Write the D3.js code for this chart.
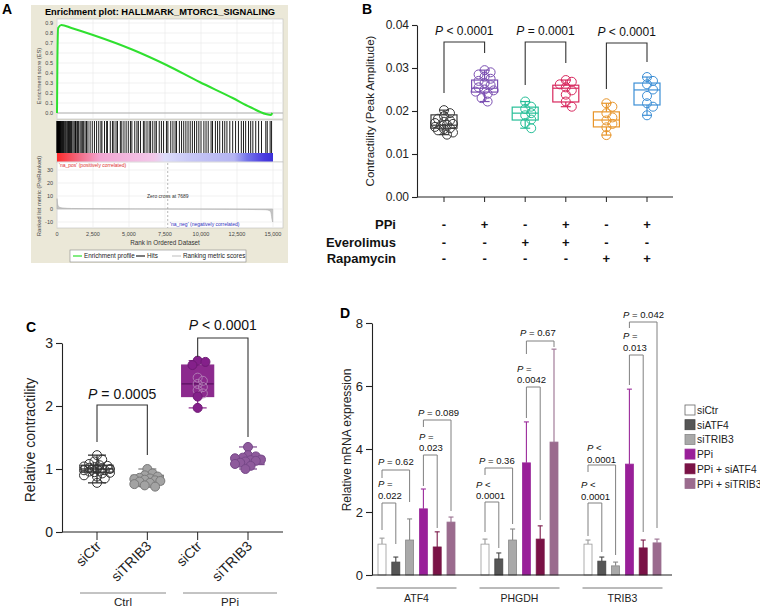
<!DOCTYPE html>
<html><head><meta charset="utf-8">
<script src="https://cdn.jsdelivr.net/npm/d3@7"></script>
<style>body{margin:0;background:#fff} svg{display:block} text{font-family:"Liberation Sans",Arial,Helvetica,sans-serif}</style>
</head><body><svg id="c" width="760" height="610"></svg>
<script>
// ================= DATA =================
// Panel A (GSEA)
const gseaTitle = "Enrichment plot: HALLMARK_MTORC1_SIGNALING";
const esRanks  = [0, 30, 80, 300, 1000, 2500, 5300, 7600, 9900, 12200, 13400, 14500, 14850, 14950];
const esValues = [0, 0.55, 0.85, 0.88, 0.85, 0.78, 0.63, 0.48, 0.31, 0.15, 0.06, -0.01, -0.02, 0.0];
const hitRanks = [5,12,20,31,45,60,78,95,110,130,150,175,200,230,260,290,330,370,410,460,500,560,610,680,740,800,870,940,
  1010,1100,1180,1250,1290,1330,1420,1500,1600,1680,1760,1850,1950,2050,2150,2300,2450,
  2600,2750,2900,3050,3120,3300,3450,3500,3700,3850,3950,4100,4200,4400,4500,4650,4800,4950,
  5100,5200,5400,5550,5650,5800,6000,6100,6250,6400,6500,6650,6800,6900,7100,7250,7400,
  7600,7700,7900,8050,8200,8300,8500,8650,8800,8950,9100,9250,9400,9550,9700,9850,
  10000,10200,10350,10500,10700,10800,11000,11150,11300,11500,11650,11800,12000,12200,12400,
  12600,12800,12950,13100,13300,13450,13600,13800,14000,14200,14500,14600,14800,14900];
const metricRanks  = [0, 20, 60, 150, 400, 1000, 3000, 7689, 12000, 14500, 14800, 14880, 14930, 14980];
const metricValues = [8, 6, 3, 1.5, 0.8, 0.4, 0.2, 0, -0.2, -0.6, -1.5, -4, -8, -10];
const esTicks = [0,0.1,0.2,0.3,0.4,0.5,0.6,0.7,0.8,0.9];
const metricTicks = [30,20,10,0,-10];
const rankTicks = [0,2500,5000,7500,10000,12500,15000];
const zeroCross = 7689;

// Panel B
const bTicks = [0,0.01,0.02,0.03,0.04];
const bCtrl      = [0.0202,0.0195,0.0188,0.0182,0.0178,0.0175,0.0172,0.017,0.0168,0.0166,0.0163,0.016,0.0158,0.0155,0.015,0.0145];
const bPPi       = [0.0295,0.029,0.0285,0.028,0.0275,0.027,0.0265,0.026,0.0255,0.025,0.0248,0.0245,0.024,0.023,0.0222];
const bEvero     = [0.0222,0.021,0.0205,0.0195,0.019,0.018,0.0172,0.016];
const bPPiEvero  = [0.0272,0.0268,0.0262,0.0255,0.0248,0.0238,0.0222,0.021];
const bRapa      = [0.0218,0.021,0.0195,0.0185,0.0178,0.017,0.0162,0.0144];
const bPPiRapa   = [0.0279,0.027,0.0262,0.025,0.0235,0.0218,0.021,0.019];
const bLo  = [0.0145,0.0222,0.016,0.021,0.0144,0.019];
const bQ1  = [0.016,0.0244,0.0179,0.0221,0.0163,0.0214];
const bMed = [0.0167,0.0253,0.0195,0.0253,0.0179,0.0249];
const bQ3  = [0.0191,0.0272,0.0209,0.026,0.0198,0.0265];
const bHi  = [0.0202,0.0295,0.0222,0.0272,0.0218,0.0279];
const bRowLabels = ["PPi","Everolimus","Rapamycin"];
const bRowPPi   = ["-","+","-","+","-","+"];
const bRowEvero = ["-","-","+","+","-","-"];
const bRowRapa  = ["-","-","-","-","+","+"];
const bPText = ["< 0.0001","= 0.0001","< 0.0001"];

// Panel C
const cTicks = [0,1,2,3];
const cLabels = ["siCtr","siTRIB3","siCtr","siTRIB3"];
const cGroupNames = ["Ctrl","PPi"];
const cCtrlSiCtr  = [1.22,1.15,1.12,1.08,1.06,1.05,1.04,1.03,1.02,1.01,1.0,1.0,0.99,0.98,0.98,0.97,0.96,0.95,0.94,0.93,0.9,0.88,0.85,0.78];
const cCtrlSiTRIB = [1.0,0.93,0.9,0.88,0.86,0.85,0.84,0.83,0.82,0.81,0.8,0.78,0.76,0.74,0.72];
const cPPiSiCtr   = [2.72,2.7,2.65,2.45,2.4,2.35,2.3,2.25,2.2,2.15,1.97];
const cPPiSiTRIB  = [1.35,1.22,1.2,1.18,1.17,1.15,1.14,1.13,1.12,1.1,1.08,1.05,1.0];
const cLo  = [0.78,0.72,1.97,1.0];
const cQ1  = [0.95,0.76,2.15,1.07];
const cMed = [1.0,0.83,2.35,1.13];
const cQ3  = [1.06,0.9,2.65,1.2];
const cHi  = [1.22,1.0,2.72,1.35];
const cPText = ["= 0.0005","< 0.0001"];

// Panel D
const dGenes  = ["ATF4","PHGDH","TRIB3"];
const dSeries = ["siCtr","siATF4","siTRIB3","PPi","PPi + siATF4","PPi + siTRIB3"];
const dMeanATF4  = [0.98,0.41,1.11,2.1,0.89,1.68];
const dSdATF4    = [0.19,0.16,0.67,0.63,0.48,0.16];
const dMeanPHGDH = [0.98,0.51,1.11,3.56,1.14,4.22];
const dSdPHGDH   = [0.16,0.19,0.35,1.3,0.42,2.95];
const dMeanTRIB3 = [0.98,0.44,0.29,3.52,0.86,1.02];
const dSdTRIB3   = [0.13,0.13,0.12,2.38,0.25,0.12];
const dTicks = [0,2,4,6,8];

// ================= STYLE =================
const svg = d3.select("#c");
const bColors = ["#3a3a3a","#7b4fb2","#27bf98","#d8285e","#e8952a","#3d8fd6"];
const dFill   = ["#ffffff","#565656","#a9a9a9","#991f99","#7a1246","#9b6b8e"];
const dStroke = ["#9a9a9a","#444444","#888888","#9a2a9a","#7a1848","#9a7090"];

// deterministic beeswarm: offsets limited to +-maxOff
function swarm(vals, y, step, minD, maxOff) {
  const placed = [], out = new Array(vals.length);
  const order = vals.map((v,i)=>i).sort((a,b)=>vals[b]-vals[a]);
  const cand = [0];
  for (let k=1;k*step<=maxOff+1e-9;k++) cand.push(k*step, -k*step);
  order.forEach(i => {
    const py = y(vals[i]);
    let best = null, bestD = -1;
    for (const dx of cand) {
      const md = placed.length ? d3.min(placed, p => Math.hypot(p[0]-dx, p[1]-py)) : Infinity;
      if (md >= minD) { best = dx; break; }
      if (md > bestD) { bestD = md; best = dx; }
    }
    out[i] = best; placed.push([best,py]);
  });
  return out;
}
function pLabel(g, x, y, rest, size, anchor) {
  const t = g.append("text").attr("x",x).attr("y",y).attr("font-size",size).attr("text-anchor",anchor||"middle").attr("fill","#111");
  t.append("tspan").attr("font-style","italic").text("P");
  t.append("tspan").text(" " + rest);
  return t;
}

// ================= PANEL A =================
{
  const g = svg.append("g");
  g.append("text").attr("x",2).attr("y",14).attr("font-size",14).attr("font-weight","bold").text("A");
  g.append("rect").attr("x",31).attr("y",5).attr("width",257).attr("height",258).attr("fill","#ebe8d8");
  const x = d3.scaleLinear().domain([0,15694]).range([57,283]);
  const y = d3.scaleLinear().domain([0,0.9]).range([113,23]);
  const m = d3.scaleLinear().domain([-10,30]).range([222,170]);
  g.append("text").attr("x",160).attr("y",15).attr("text-anchor","middle").attr("font-size",9.3).attr("font-weight","bold").text(gseaTitle);
  [[19,100],[120,42],[162,66]].forEach(([yy,h]) => g.append("rect").attr("x",57).attr("y",yy).attr("width",226).attr("height",h)
      .attr("fill","#fff").attr("stroke","#bdbdbd").attr("stroke-width",0.6));
  const grid = g.append("g").attr("stroke","#ebebeb").attr("stroke-width",0.7);
  rankTicks.forEach(t => {
    grid.append("line").attr("x1",x(t)).attr("x2",x(t)).attr("y1",19).attr("y2",119);
    grid.append("line").attr("x1",x(t)).attr("x2",x(t)).attr("y1",163).attr("y2",228);
  });
  esTicks.forEach(t => grid.append("line").attr("x1",57).attr("x2",283).attr("y1",y(t)).attr("y2",y(t)));
  metricTicks.forEach(t => grid.append("line").attr("x1",57).attr("x2",283).attr("y1",m(t)).attr("y2",m(t)));
  g.append("line").attr("x1",57).attr("x2",283).attr("y1",y(0)).attr("y2",y(0)).attr("stroke","#a0a0a0").attr("stroke-width",0.8);
  g.append("path").datum(d3.zip(esRanks,esValues))
    .attr("d", d3.line().x(d=>x(d[0])).y(d=>y(d[1])).curve(d3.curveMonotoneX))
    .attr("fill","none").attr("stroke","#2fe02f").attr("stroke-width",2);
  g.append("g").selectAll("line").data(hitRanks).join("line")
    .attr("x1",d=>x(d)).attr("x2",d=>x(d)).attr("y1",121).attr("y2",153).attr("stroke","#000").attr("stroke-width",0.9);
  const defs = svg.append("defs");
  const grad = defs.append("linearGradient").attr("id","band");
  [[0,"#ff2b2b"],[0.1,"#f36a82"],[0.2,"#f3a6d2"],[0.45,"#f2c8ea"],[0.5,"#dcdcfa"],[0.62,"#c6c6f6"],[0.82,"#b4b4f2"],[0.88,"#7474ea"],[0.96,"#4a3ae0"],[1,"#3a30d8"]]
    .forEach(([o,c]) => grad.append("stop").attr("offset",o).attr("stop-color",c));
  g.append("rect").attr("x",57).attr("y",153).attr("width",x(15000)-57).attr("height",8.5).attr("fill","url(#band)");
  g.append("path").datum(d3.zip(metricRanks,metricValues))
    .attr("d", d3.area().x(d=>x(d[0])).y0(m(0)).y1(d=>m(d[1])).curve(d3.curveMonotoneX))
    .attr("fill","#c4c4c4").attr("stroke","#b0b0b0").attr("stroke-width",0.6);
  g.append("line").attr("x1",x(zeroCross)).attr("x2",x(zeroCross)).attr("y1",163).attr("y2",228)
    .attr("stroke","#999").attr("stroke-dasharray","2,2").attr("stroke-width",0.7);
  const tf = d3.format(",");
  esTicks.forEach(t => g.append("text").attr("x",53).attr("y",y(t)+2).attr("text-anchor","end").attr("font-size",5.5).attr("fill","#444").text(t.toFixed(1)));
  metricTicks.forEach(t => g.append("text").attr("x",53).attr("y",m(t)+2).attr("text-anchor","end").attr("font-size",5.5).attr("fill","#444").text(t));
  rankTicks.forEach(t => g.append("text").attr("x",x(t)).attr("y",236).attr("text-anchor","middle").attr("font-size",5.5).attr("fill","#444").text(tf(t)));
  g.append("text").attr("x",165).attr("y",245).attr("text-anchor","middle").attr("font-size",6.3).attr("fill","#333").text("Rank in Ordered Dataset");
  g.append("text").attr("transform","translate(41,76) rotate(-90)").attr("text-anchor","middle").attr("font-size",5.6).attr("fill","#444").text("Enrichment score (ES)");
  g.append("text").attr("transform","translate(41,196) rotate(-90)").attr("text-anchor","middle").attr("font-size",5.8).attr("fill","#444").text("Ranked list metric (PreRanked)");
  g.append("text").attr("x",59).attr("y",167).attr("font-size",5).attr("fill","#e03030").text("'na_pos' (positively correlated)");
  g.append("text").attr("x",x(zeroCross)).attr("y",198).attr("text-anchor","middle").attr("font-size",5).attr("fill","#333").text("Zero cross at 7689");
  g.append("text").attr("x",170).attr("y",226).attr("font-size",5).attr("fill","#3030c0").text("'na_neg' (negatively correlated)");
  g.append("rect").attr("x",70).attr("y",250).attr("width",176).attr("height",12).attr("fill","#fff").attr("stroke","#888").attr("stroke-width",0.6);
  const leg = [[73,"#2fe02f","Enrichment profile"],[136,"#222","Hits"],[172,"#c8c8c8","Ranking metric scores"]];
  leg.forEach(([lx,c,t]) => {
    g.append("line").attr("x1",lx).attr("x2",lx+9).attr("y1",256).attr("y2",256).attr("stroke",c).attr("stroke-width",1.2);
    g.append("text").attr("x",lx+11).attr("y",258.3).attr("font-size",6.3).attr("fill","#222").text(t);
  });
}

// ================= PANEL B =================
{
  const g = svg.append("g");
  g.append("text").attr("x",362).attr("y",14).attr("font-size",14).attr("font-weight","bold").text("B");
  const y = d3.scaleLinear().domain([0,0.04]).range([197,25]);
  const x = d3.scalePoint().domain(d3.range(6)).range([444,647]);
  const ax = g.append("g").attr("transform","translate(417,0)")
    .call(d3.axisLeft(y).tickValues(bTicks).tickFormat(d3.format(".2f")).tickSize(5).tickSizeOuter(0));
  ax.selectAll("text").attr("font-size",12).attr("fill","#222").attr("font-family","Liberation Sans, Arial, sans-serif");
  ax.selectAll("line,path").attr("stroke","#222").attr("stroke-width",1.1);
  g.append("line").attr("x1",417).attr("x2",673).attr("y1",197).attr("y2",197).attr("stroke","#222").attr("stroke-width",1.1);
  d3.range(6).forEach(i => g.append("line").attr("x1",x(i)).attr("x2",x(i)).attr("y1",197).attr("y2",202).attr("stroke","#222"));
  g.append("text").attr("transform","translate(374,111) rotate(-90)").attr("text-anchor","middle").attr("font-size",11.5).attr("fill","#222").text("Contractility (Peak Amplitude)");
  const groups = [bCtrl,bPPi,bEvero,bPPiEvero,bRapa,bPPiRapa];
  groups.forEach((vals,i) => {
    const c = bColors[i], cx = x(i), bw = 26;
    const gg = g.append("g").attr("stroke",c).attr("fill","none").attr("stroke-width",1.2);
    gg.append("line").attr("x1",cx).attr("x2",cx).attr("y1",y(bHi[i])).attr("y2",y(bQ3[i]));
    gg.append("line").attr("x1",cx).attr("x2",cx).attr("y1",y(bQ1[i])).attr("y2",y(bLo[i]));
    gg.append("line").attr("x1",cx-5).attr("x2",cx+5).attr("y1",y(bHi[i])).attr("y2",y(bHi[i]));
    gg.append("line").attr("x1",cx-5).attr("x2",cx+5).attr("y1",y(bLo[i])).attr("y2",y(bLo[i]));
    gg.append("rect").attr("x",cx-bw/2).attr("y",y(bQ3[i])).attr("width",bw).attr("height",y(bQ1[i])-y(bQ3[i]));
    gg.append("line").attr("x1",cx-bw/2).attr("x2",cx+bw/2).attr("y1",y(bMed[i])).attr("y2",y(bMed[i]));
    const off = swarm(vals, y, 3, 6, 10);
    gg.selectAll("circle").data(vals).join("circle").attr("cx",(d,k)=>cx+off[k]).attr("cy",d=>y(d)).attr("r",4.5).attr("stroke-width",1);
  });
  const br = [{a:0,b:1,y:42,yl:93,yr:53,ty:35},{a:2,b:3,y:42,yl:85,yr:63,ty:35},{a:4,b:5,y:43,yl:89,yr:62,ty:36}];
  br.forEach((d,k) => {
    g.append("path").attr("d",`M${x(d.a)},${d.yl}V${d.y}H${x(d.b)}V${d.yr}`).attr("fill","none").attr("stroke","#333").attr("stroke-width",1.1);
    pLabel(g,(x(d.a)+x(d.b))/2,d.ty,bPText[k],12);
  });
  const rows = [bRowPPi,bRowEvero,bRowRapa];
  const rowY = [229,247,263];
  rows.forEach((r,ri) => {
    g.append("text").attr("x",396).attr("y",rowY[ri]).attr("text-anchor","end").attr("font-size",13).attr("font-weight","bold").attr("fill","#111").text(bRowLabels[ri]);
    r.forEach((s,i) => g.append("text").attr("x",x(i)).attr("y",rowY[ri]).attr("text-anchor","middle").attr("font-size",13).attr("font-weight","bold").attr("fill","#111").text(s));
  });
}

// ================= PANEL C =================
{
  const g = svg.append("g");
  g.append("text").attr("x",26).attr("y",332).attr("font-size",14).attr("font-weight","bold").text("C");
  const y = d3.scaleLinear().domain([0,3]).range([532,343]);
  const x = d3.scalePoint().domain(d3.range(4)).range([97,248]);
  const ax = g.append("g").attr("transform","translate(62,0)")
    .call(d3.axisLeft(y).tickValues(cTicks).tickFormat(d3.format("d")).tickSize(6).tickSizeOuter(0));
  ax.selectAll("text").attr("font-size",14).attr("fill","#222").attr("font-family","Liberation Sans, Arial, sans-serif");
  ax.selectAll("line,path").attr("stroke","#222").attr("stroke-width",1.1);
  g.append("line").attr("x1",62).attr("x2",283).attr("y1",532).attr("y2",532).attr("stroke","#222").attr("stroke-width",1.1);
  d3.range(4).forEach(i => {
    g.append("line").attr("x1",x(i)).attr("x2",x(i)).attr("y1",532).attr("y2",540).attr("stroke","#222");
    g.append("text").attr("transform",`translate(${x(i)+5},547) rotate(-45)`).attr("text-anchor","end").attr("font-size",14).attr("fill","#222").text(cLabels[i]);
  });
  g.append("text").attr("transform","translate(35,440) rotate(-90)").attr("text-anchor","middle").attr("font-size",14).attr("fill","#222").text("Relative contractility");
  [[80,166,123],[183,277,230]].forEach(([a,b,c],k) => {
    g.append("line").attr("x1",a).attr("x2",b).attr("y1",593).attr("y2",593).attr("stroke","#888").attr("stroke-width",1);
    g.append("text").attr("x",c).attr("y",606).attr("text-anchor","middle").attr("font-size",11.5).attr("fill","#222").text(cGroupNames[k]);
  });
  const groups = [cCtrlSiCtr,cCtrlSiTRIB,cPPiSiCtr,cPPiSiTRIB];
  const boxStroke = ["#222","#777","#8a2a8c","#7e4a8e"];
  const boxFill = ["none","none","#8c2a8e","none"];
  groups.forEach((vals,i) => {
    const cx = x(i), bw = 32;
    const gg = g.append("g").attr("stroke",boxStroke[i]).attr("stroke-width",1.2);
    gg.append("line").attr("x1",cx).attr("x2",cx).attr("y1",y(cHi[i])).attr("y2",y(cLo[i]));
    gg.append("line").attr("x1",cx-9).attr("x2",cx+9).attr("y1",y(cHi[i])).attr("y2",y(cHi[i]));
    gg.append("line").attr("x1",cx-9).attr("x2",cx+9).attr("y1",y(cLo[i])).attr("y2",y(cLo[i]));
    gg.append("rect").attr("x",cx-bw/2).attr("y",y(cQ3[i])).attr("width",bw).attr("height",y(cQ1[i])-y(cQ3[i])).attr("fill",boxFill[i]);
    gg.append("line").attr("x1",cx-bw/2).attr("x2",cx+bw/2).attr("y1",y(cMed[i])).attr("y2",y(cMed[i])).attr("stroke",i===2?"#5a1060":boxStroke[i]);
    const off = swarm(vals, y, 2.6, 5.6, 13);
    gg.selectAll("circle").data(vals).join("circle").attr("cx",(d,k)=>cx+off[k]).attr("cy",d=>y(d)).attr("r",4.5)
      .attr("stroke-width",1)
      .attr("fill", d => i===0 ? "none" : i===1 ? "#a3a3a3" : i===2 ? ((d<cQ3[i] && d>cQ1[i]) ? "none" : "#84208a") : "#8e5a9c")
      .attr("stroke", d => i===0 ? "#333" : i===1 ? "#7a7a7a" : i===2 ? ((d<cQ3[i] && d>cQ1[i]) ? "#b07ab4" : "#6e1a74") : "#764888");
  });
  const br = [{a:0,b:1,y:405,yl:442,yr:455,ty:399},{a:2,b:3,y:338,yl:357,yr:437,ty:330}];
  br.forEach((d,k) => {
    g.append("path").attr("d",`M${x(d.a)},${d.yl}V${d.y}H${x(d.b)}V${d.yr}`).attr("fill","none").attr("stroke","#333").attr("stroke-width",1.1);
    pLabel(g,(x(d.a)+x(d.b))/2,d.ty,cPText[k],14);
  });
}

// ================= PANEL D =================
{
  const g = svg.append("g");
  g.append("text").attr("x",340).attr("y",318).attr("font-size",14).attr("font-weight","bold").text("D");
  const y = d3.scaleLinear().domain([0,8]).range([575,323]);
  const xg = d3.scaleBand().domain(dGenes).range([365,674]);
  const xs = d3.scalePoint().domain(d3.range(6)).range([-34.5,34.5]);
  const bx = (gi,i) => xg(dGenes[gi]) + xg.bandwidth()/2 + xs(i);
  const ax = g.append("g").attr("transform","translate(372,0)")
    .call(d3.axisLeft(y).tickValues(dTicks).tickFormat(d3.format("d")).tickSize(6).tickSizeOuter(0));
  ax.selectAll("text").attr("font-size",13).attr("fill","#222").attr("font-family","Liberation Sans, Arial, sans-serif");
  ax.selectAll("line,path").attr("stroke","#222").attr("stroke-width",1.1);
  g.append("text").attr("transform","translate(351,440) rotate(-90)").attr("text-anchor","middle").attr("font-size",12).attr("fill","#222").text("Relative mRNA expression");
  const means = [dMeanATF4,dMeanPHGDH,dMeanTRIB3], sds = [dSdATF4,dSdPHGDH,dSdTRIB3];
  means.forEach((mv,gi) => {
    mv.forEach((v,i) => {
      const cx = bx(gi,i), top = y(v+sds[gi][i]);
      g.append("line").attr("x1",cx).attr("x2",cx).attr("y1",y(v)).attr("y2",top).attr("stroke",dStroke[i]).attr("stroke-width",1.1);
      g.append("line").attr("x1",cx-2.5).attr("x2",cx+2.5).attr("y1",top).attr("y2",top).attr("stroke",dStroke[i]).attr("stroke-width",1.1);
      g.append("rect").attr("x",cx-4).attr("y",y(v)).attr("width",8).attr("height",y(0)-y(v)).attr("fill",dFill[i]).attr("stroke",dStroke[i]).attr("stroke-width",0.8);
    });
    const c = xg(dGenes[gi]) + xg.bandwidth()/2;
    g.append("line").attr("x1",c-40).attr("x2",c+40).attr("y1",588).attr("y2",588).attr("stroke","#777").attr("stroke-width",1);
    g.append("text").attr("x",c).attr("y",602).attr("text-anchor","middle").attr("font-size",10.5).attr("fill","#222").text(dGenes[gi]);
  });
  g.append("line").attr("x1",372).attr("x2",672).attr("y1",575).attr("y2",575).attr("stroke","#222").attr("stroke-width",1.1);
  const br = [
    {g:0,a:0,b:1,y:503,yl:530,yr:544,tx:378,ty:[487,499],t:["=","0.022"]},
    {g:0,a:0,b:2,y:470,yl:478,yr:502,tx:378,ty:[465],t:["= 0.62"]},
    {g:0,a:3,b:4,y:455,yl:486,yr:528,tx:419,ty:[440,451],t:["=","0.023"]},
    {g:0,a:3,b:5,y:420,yl:427,yr:511,tx:418,ty:[416],t:["= 0.089"]},
    {g:1,a:0,b:1,y:502,yl:532,yr:548,tx:476,ty:[488,499],t:["<","0.0001"]},
    {g:1,a:0,b:2,y:468,yl:475,yr:524,tx:479,ty:[463.5],t:["= 0.36"]},
    {g:1,a:3,b:4,y:387,yl:418,yr:520,tx:517,ty:[371.5,383],t:["=","0.0042"]},
    {g:1,a:3,b:5,y:341,yl:354,yr:347,tx:520,ty:[336],t:["= 0.67"]},
    {g:2,a:0,b:1,y:503,yl:536,yr:552,tx:581,ty:[487.5,499.5],t:["<","0.0001"]},
    {g:2,a:0,b:2,y:465,yl:472,yr:555,tx:587,ty:[450.5,462.5],t:["<","0.0001"]},
    {g:2,a:3,b:4,y:355,yl:385,yr:532,tx:623,ty:[338.5,350.5],t:["=","0.013"]},
    {g:2,a:3,b:5,y:322,yl:328,yr:528,tx:623,ty:[317.5],t:["= 0.042"]}
  ];
  br.forEach(d => {
    g.append("path").attr("d",`M${bx(d.g,d.a)},${d.yl}V${d.y}H${bx(d.g,d.b)}V${d.yr}`).attr("fill","none").attr("stroke","#808080").attr("stroke-width",1);
    pLabel(g,d.tx,d.ty[0],d.t[0],9.5,"start");
    if (d.t.length>1) g.append("text").attr("x",d.tx).attr("y",d.ty[1]).attr("font-size",9.5).attr("fill","#111").text(d.t[1]);
  });
  dSeries.forEach((s,i) => {
    const ly = 405 + i*14.7;
    g.append("rect").attr("x",685).attr("y",ly).attr("width",10).attr("height",10).attr("fill",dFill[i]).attr("stroke",i===0?"#666":dStroke[i]).attr("stroke-width",0.8);
    g.append("text").attr("x",697).attr("y",ly+9).attr("font-size",10.3).attr("fill","#222").text(s);
  });
}
</script></body></html>
